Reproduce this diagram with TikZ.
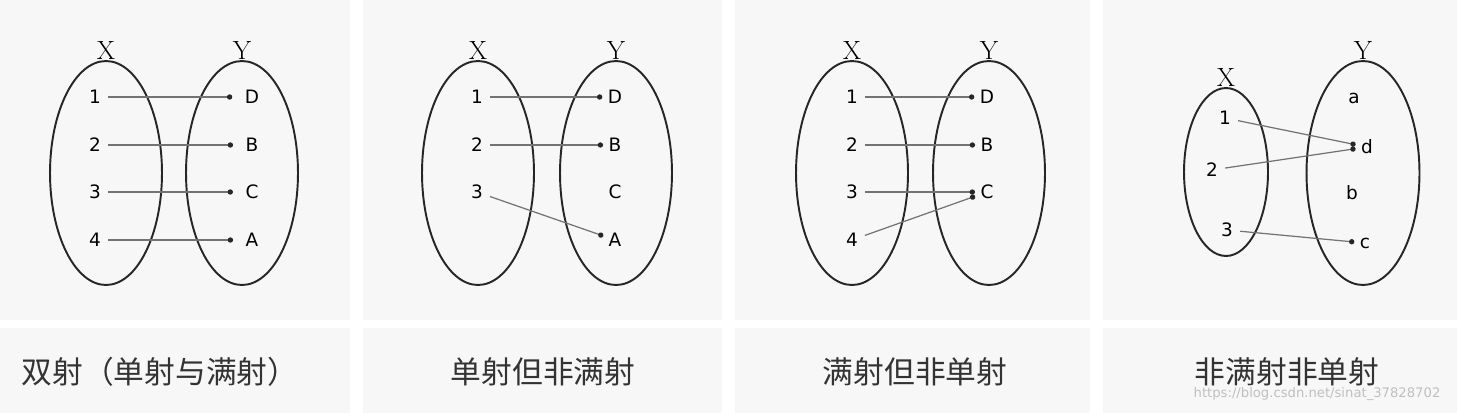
\documentclass[tikz,border=0pt]{standalone}
\usepackage{fontspec}
\setsansfont{DejaVu Sans}
\newfontfamily\cjk{Noto Sans CJK SC}
\usetikzlibrary{shapes.geometric,arrows.meta}

\begin{document}
\begin{tikzpicture}[x=0.02cm,y=-0.02cm,
  setbox/.style={draw=black!85,line width=1.1pt,ellipse,minimum width=2.24cm,minimum height=4.48cm,inner sep=0pt},
  setname/.style={anchor=south,inner sep=0pt,font=\fontsize{15}{15}\selectfont},
  elem/.style={inner sep=1pt,font=\sffamily\fontsize{10.5}{11}\selectfont},
  maparrow/.style={draw=black!55,line width=0.7pt,-{Circle[length=3pt,color=black!85]},shorten <=3pt,shorten >=2pt},
  caption/.style={text=black!80,font=\cjk\fontsize{17.5}{17.5}\selectfont}]
\useasboundingbox (0,0) rectangle (1457,413);

% panels
\fill[black!3] (0,0) rectangle (350,320);
\fill[black!3] (0,328) rectangle (350,413);
\fill[black!3] (363,0) rectangle (722,320);
\fill[black!3] (363,328) rectangle (722,413);
\fill[black!3] (735,0) rectangle (1090,320);
\fill[black!3] (735,328) rectangle (1090,413);
\fill[black!3] (1103,0) rectangle (1457,320);
\fill[black!3] (1103,328) rectangle (1457,413);

% bijection
\node[setbox] (Xa) at (106,173) {};
\node[setbox] (Ya) at (242,173) {};
\node[setname] (xa) at (Xa.north) {X};
\node[setname] (ya) at (Ya.north) {Y};
\node[elem] (1a) at (95,97) {1};
\node[elem] (2a) at (95,145) {2};
\node[elem] (3a) at (95,192) {3};
\node[elem] (4a) at (95,240) {4};
\node[elem] (Da) at (252,97) {D};
\node[elem] (Ba) at (252,145) {B};
\node[elem] (Ca) at (252,192) {C};
\node[elem] (Aa) at (252,240) {A};
\path[maparrow,shorten >=6pt] (1a) -- (Da);
\path[maparrow,shorten >=6pt] (2a) -- (Ba);
\path[maparrow,shorten >=6pt] (3a) -- (Ca);
\path[maparrow,shorten >=6pt] (4a) -- (Aa);
\node[caption] (capa) at (160,372) {双射（单射与满射）};

% injection
\node[setbox] (Xb) at (478,173) {};
\node[setbox] (Yb) at (616,173) {};
\node[setname] (xb) at (Xb.north) {X};
\node[setname] (yb) at (Yb.north) {Y};
\node[elem] (1b) at (477,97) {1};
\node[elem] (2b) at (477,145) {2};
\node[elem] (3b) at (477,192) {3};
\node[elem] (Db) at (615,97) {D};
\node[elem] (Bb) at (615,145) {B};
\node[elem] (Cb) at (615,192) {C};
\node[elem] (Ab) at (615,240) {A};
\path[maparrow] (1b) -- (Db);
\path[maparrow] (2b) -- (Bb);
\path[maparrow] (3b) -- (Ab);
\node[caption] (capb) at (543,372) {单射但非满射};

% surjection
\node[setbox] (Xc) at (852,173) {};
\node[setbox] (Yc) at (989,173) {};
\node[setname] (xc) at (Xc.north) {X};
\node[setname] (yc) at (Yc.north) {Y};
\node[elem] (1c) at (852,97) {1};
\node[elem] (2c) at (852,145) {2};
\node[elem] (3c) at (852,192) {3};
\node[elem] (4c) at (852,240) {4};
\node[elem] (Dc) at (987,97) {D};
\node[elem] (Bc) at (987,145) {B};
\node[elem] (Cc) at (987,192) {C};
\path[maparrow] (1c) -- (Dc);
\path[maparrow] (2c) -- (Bc);
\path[maparrow] (3c) -- (Cc);
\path[maparrow] (4c) -- (Cc);
\node[caption] (capc) at (915,372) {满射但非单射};

% neither
\node[setbox,minimum width=1.68cm,minimum height=3.36cm] (Xd) at (1226,172) {};
\node[setbox,minimum width=2.26cm] (Yd) at (1363,173) {};
\node[setname] (xd) at (Xd.north) {X};
\node[setname] (yd) at (Yd.north) {Y};
\node[elem] (1d) at (1225,118) {1};
\node[elem] (2d) at (1212,170) {2};
\node[elem] (3d) at (1227,230) {3};
\node[elem] (ad) at (1354,98) {a};
\node[elem] (dd) at (1367,147) {d};
\node[elem] (bd) at (1352,193) {b};
\node[elem] (cd) at (1365,243) {c};
\path[maparrow] (1d) -- (dd);
\path[maparrow] (2d) -- (dd);
\path[maparrow] (3d) -- (cd);
\node[caption] (capd) at (1287,372) {非满射非单射};
\node[text=black!25,font=\sffamily\fontsize{7.5}{7.5}\selectfont] (site) at (1317,394) {https://blog.csdn.net/sinat\_37828702};

\end{tikzpicture}
\end{document}
